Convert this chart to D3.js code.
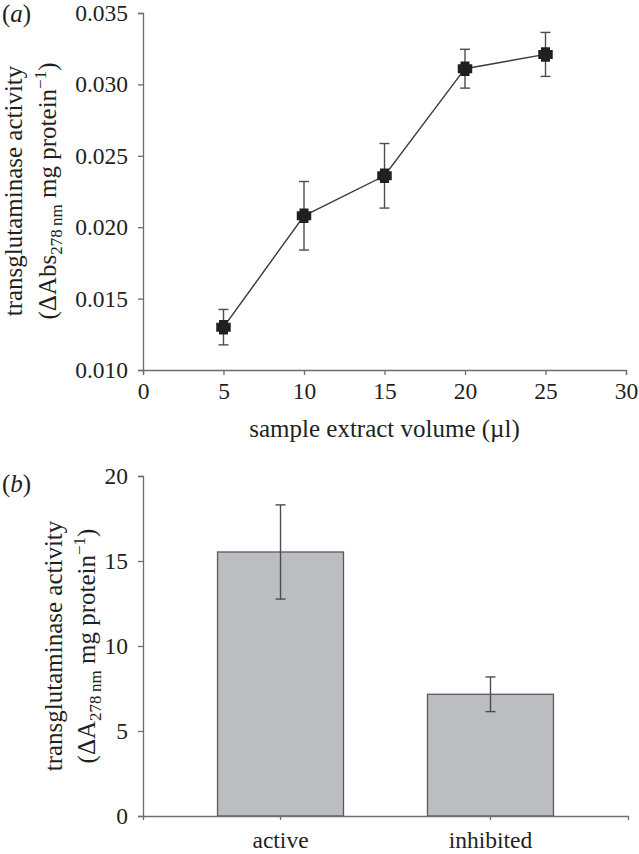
<!DOCTYPE html>
<html>
<head>
<meta charset="utf-8">
<script src="https://cdn.jsdelivr.net/npm/d3@7"></script>
<style>
  html, body { margin: 0; padding: 0; background: #fff; }
  svg { display: block; }
  text { font-family: "Liberation Serif", "Times New Roman", serif; fill: #231f20; }
</style>
</head>
<body>
<svg id="chart" width="639" height="854"></svg>
<script>
// ---- Panel (a) data ----
const volumes = [5, 10, 15, 20, 25];
const activityA = [0.0130, 0.0208, 0.0236, 0.0311, 0.0321];
const errorA = [0.00124, 0.0024, 0.00226, 0.00136, 0.00154];
const xTicksA = [0, 5, 10, 15, 20, 25, 30];
const yTicksA = [0.010, 0.015, 0.020, 0.025, 0.030, 0.035];

// ---- Panel (b) data ----
const conditions = ["active", "inhibited"];
const activityB = [15.53, 7.16];
const errorB = [2.77, 1.02];
const yTicksB = [0, 5, 10, 15, 20];

const svg = d3.select("#chart");
const axisColor = "#6d6e71";
const inkColor = "#231f20";
const tickFont = 23.5;
const titleFont = 25;

function styleAxis(g) {
  g.selectAll("path.domain").attr("stroke", axisColor).attr("stroke-width", 1.3);
  g.selectAll(".tick line").attr("stroke", axisColor).attr("stroke-width", 1.3);
  g.selectAll(".tick text").attr("font-size", tickFont)
    .attr("font-family", "Liberation Serif, serif").attr("fill", inkColor);
}

// ================= Panel (a) =================
const xA = d3.scaleLinear().domain([0, 30]).range([143, 626]);
const yA = d3.scaleLinear().domain([0.010, 0.035]).range([370, 13]);

const gxA = svg.append("g").attr("transform", `translate(0,${yA(0.010)})`)
  .call(d3.axisBottom(xA).tickValues(xTicksA).tickFormat(d3.format("d")).tickSizeOuter(0).tickSize(5).tickPadding(7));
styleAxis(gxA);
gxA.selectAll(".tick text").attr("dy", "0.74em");

const gyA = svg.append("g").attr("transform", `translate(${xA(0)},0)`)
  .call(d3.axisLeft(yA).tickValues(yTicksA).tickFormat(d3.format(".3f")).tickSizeOuter(0).tickSize(5).tickPadding(10));
styleAxis(gyA);

// connecting line
const pts = volumes.map((v, i) => [v, activityA[i], errorA[i]]);
svg.append("path").datum(pts)
  .attr("fill", "none").attr("stroke", "#3a3a3c").attr("stroke-width", 1.4)
  .attr("d", d3.line().x(d => xA(d[0])).y(d => yA(d[1])));

// error bars
const ebA = svg.append("g").attr("stroke", "#4d4d4f").attr("stroke-width", 1.4);
pts.forEach(d => {
  const x = xA(d[0]), y1 = yA(d[1] + d[2]), y2 = yA(d[1] - d[2]);
  ebA.append("line").attr("x1", x).attr("x2", x).attr("y1", y1).attr("y2", y2);
  ebA.append("line").attr("x1", x - 5).attr("x2", x + 5).attr("y1", y1).attr("y2", y1);
  ebA.append("line").attr("x1", x - 5).attr("x2", x + 5).attr("y1", y2).attr("y2", y2);
});

// fat plus marker
const fatPlus = {
  draw(ctx, size) {
    const w = Math.sqrt(size) / 2;   // half width
    const t = w * 0.62;               // half arm thickness
    ctx.moveTo(-t, -w); ctx.lineTo(t, -w); ctx.lineTo(t, -t); ctx.lineTo(w, -t);
    ctx.lineTo(w, t); ctx.lineTo(t, t); ctx.lineTo(t, w); ctx.lineTo(-t, w);
    ctx.lineTo(-t, t); ctx.lineTo(-w, t); ctx.lineTo(-w, -t); ctx.lineTo(-t, -t);
    ctx.closePath();
  }
};
svg.append("g").selectAll("path.marker").data(pts).join("path")
  .attr("class", "marker")
  .attr("transform", d => `translate(${xA(d[0])},${yA(d[1])})`)
  .attr("d", d3.symbol().type(fatPlus).size(210))
  .attr("fill", inkColor);

// titles (a)
const labA = svg.append("text").attr("x", 2).attr("y", 22).attr("font-size", titleFont);
labA.append("tspan").text("(");
labA.append("tspan").attr("font-style", "italic").text("a");
labA.append("tspan").text(")");

svg.append("text").attr("x", (xA(0) + xA(30)) / 2).attr("y", 437)
  .attr("text-anchor", "middle").attr("font-size", titleFont)
  .text("sample extract volume (\u00b5l)");

function yTitle(cx, cy, x1, x2, subTxt) {
  const g = svg.append("g").attr("transform", `translate(${cx},${cy}) rotate(-90)`);
  g.append("text").attr("x", 0).attr("y", x1).attr("text-anchor", "middle")
    .attr("font-size", titleFont).text("transglutaminase activity");
  const t = g.append("text").attr("x", 0).attr("y", x2).attr("text-anchor", "middle")
    .attr("font-size", titleFont);
  t.append("tspan").text(subTxt);
  t.append("tspan").attr("font-size", 17).attr("dy", 6).text("278\u2009nm");
  t.append("tspan").attr("dy", -6).text(" mg protein");
  t.append("tspan").attr("font-size", 17).attr("dy", -10).text("\u22121");
  t.append("tspan").attr("dy", 10).text(")");
}
yTitle(0, 191, 22, 56, "(\u0394Abs");

// ================= Panel (b) =================
const xB = d3.scaleBand().domain(conditions).range([143, 628]).paddingInner(0.4).paddingOuter(0.355);
const yB = d3.scaleLinear().domain([0, 20]).range([816, 476]);

svg.append("g").selectAll("rect").data(conditions).join("rect")
  .attr("x", d => xB(d)).attr("width", xB.bandwidth())
  .attr("y", (d, i) => yB(activityB[i])).attr("height", (d, i) => yB(0) - yB(activityB[i]))
  .attr("fill", "#bcbdc0").attr("stroke", "#58595b").attr("stroke-width", 1.3);

const gxB = svg.append("g").attr("transform", `translate(0,${yB(0)})`)
  .call(d3.axisBottom(xB).tickSizeOuter(0).tickSize(4).tickPadding(11));
styleAxis(gxB);
gxB.selectAll(".tick text").attr("dy", "0.74em");

const gyB = svg.append("g").attr("transform", `translate(143,0)`)
  .call(d3.axisLeft(yB).tickValues(yTicksB).tickFormat(d3.format("d")).tickSizeOuter(0).tickSize(5).tickPadding(10));
styleAxis(gyB);

const ebB = svg.append("g").attr("stroke", "#4d4d4f").attr("stroke-width", 1.4);
conditions.forEach((c, i) => {
  const x = xB(c) + xB.bandwidth() / 2;
  const y1 = yB(activityB[i] + errorB[i]), y2 = yB(activityB[i] - errorB[i]);
  ebB.append("line").attr("x1", x).attr("x2", x).attr("y1", y1).attr("y2", y2);
  ebB.append("line").attr("x1", x - 5).attr("x2", x + 5).attr("y1", y1).attr("y2", y1);
  ebB.append("line").attr("x1", x - 5).attr("x2", x + 5).attr("y1", y2).attr("y2", y2);
});

const labB = svg.append("text").attr("x", 2).attr("y", 492).attr("font-size", titleFont);
labB.append("tspan").text("(");
labB.append("tspan").attr("font-style", "italic").text("b");
labB.append("tspan").text(")");

yTitle(0, 646, 62, 95, "(\u0394A");
</script>
</body>
</html>
